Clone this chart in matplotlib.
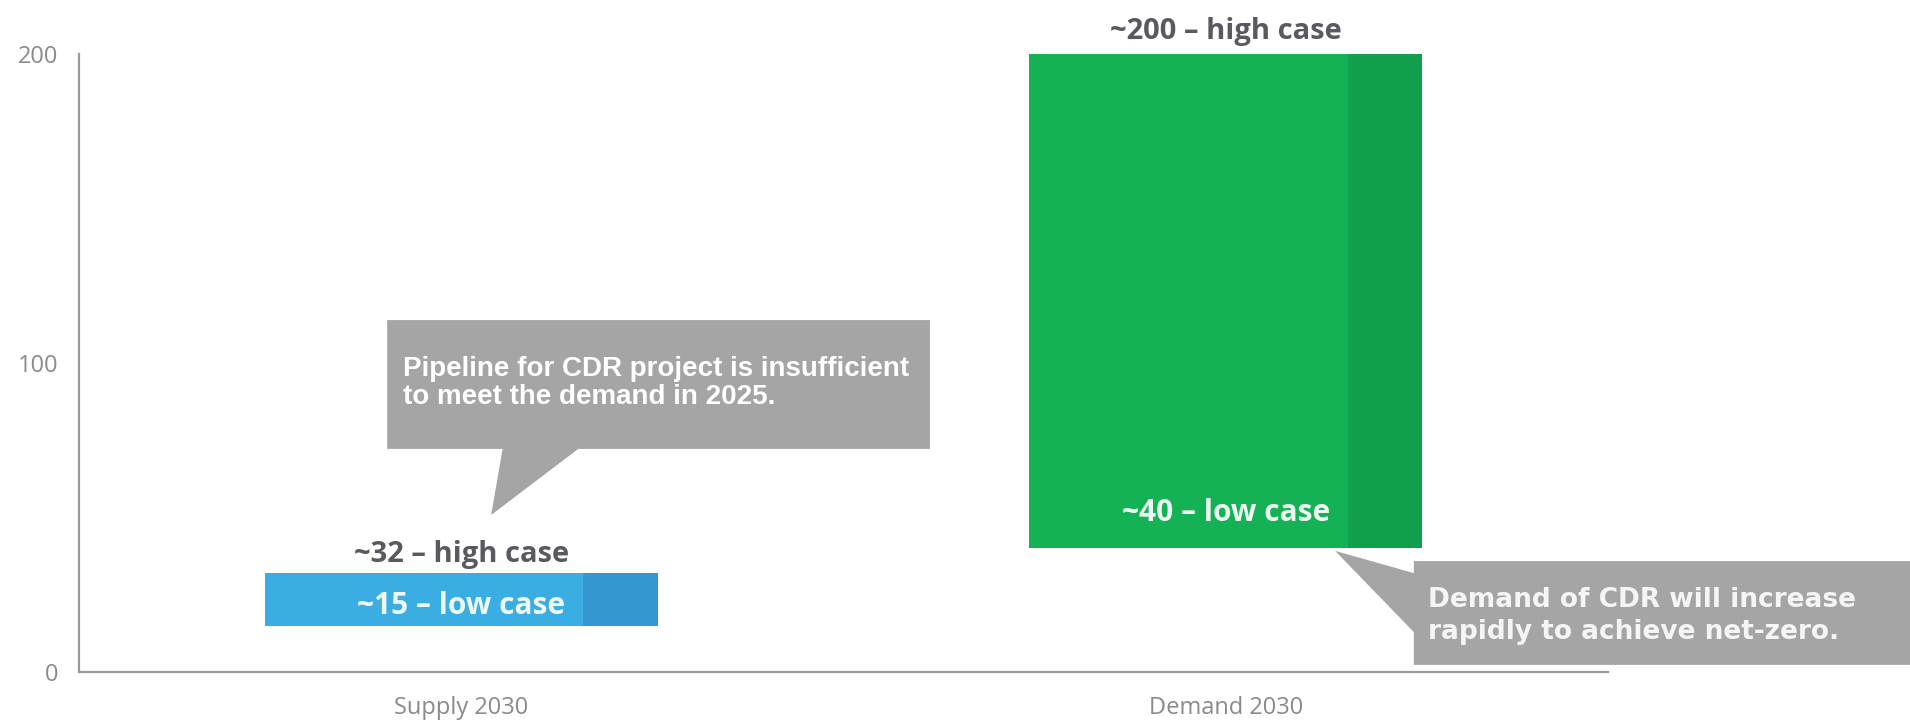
import matplotlib
matplotlib.use('Agg')
import matplotlib.pyplot as plt
from matplotlib.patches import Polygon

# data
categories = ['Supply 2030', 'Demand 2030']
low_case = [15, 40]
high_case = [32, 200]
high_labels = ['~32 \u2013 high case', '~200 \u2013 high case']
low_labels = ['~15 \u2013 low case', '~40 \u2013 low case']
main_colors = ['#3AAEE3', '#14B155']
strip_colors = ['#3596D0', '#12A04C']
y_ticks = [0, 100, 200]

fig = plt.figure(figsize=(19.1, 7.21), dpi=100)
ax = fig.add_axes([0.0414, 0.068, 0.8005, 0.857])

x = list(range(len(categories)))
bar_w = 0.514
strip_w = bar_w * 0.19
heights = [h - l for h, l in zip(high_case, low_case)]

ax.bar(x, heights, bottom=low_case, width=bar_w, color=main_colors, zorder=2)
ax.bar([i + bar_w / 2 - strip_w / 2 for i in x], heights, bottom=low_case,
       width=strip_w, color=strip_colors, zorder=2)

# label offsets (baseline, in data units)
high_off = [3.6, 4.9]
low_off = [3.8, 8.9]
for i in x:
    ax.text(i, high_case[i] + high_off[i], high_labels[i], ha='center', va='baseline',
            fontsize=21, fontweight='bold', color='#595961', family='Open Sans')
    ax.text(i, low_case[i] + low_off[i], low_labels[i], ha='center', va='baseline',
            fontsize=21.5, fontweight='bold', color='#eef8f3', family='Open Sans', zorder=3)

ax.set_xlim(-0.5, 1.5)
ax.set_ylim(0, 200)
ax.set_xticks(x)
ax.set_xticklabels(categories)
ax.set_yticks(y_ticks)
ax.tick_params(axis='both', length=0, labelsize=17, labelcolor='#8a8a8a')
ax.tick_params(axis='x', pad=17)
ax.tick_params(axis='y', pad=15)
for lab in ax.get_xticklabels() + ax.get_yticklabels():
    lab.set_family('Open Sans')

for s in ['top', 'right']:
    ax.spines[s].set_visible(False)
for s in ['left', 'bottom']:
    ax.spines[s].set_color('#9a9a9a')
    ax.spines[s].set_linewidth(1.6)

# callout 1
callout1 = [(-0.097, 72.2), (0.054, 72.2), (0.039, 50.8), (0.153, 72.2),
            (0.613, 72.2), (0.613, 113.9), (-0.097, 113.9)]
ax.add_patch(Polygon(callout1, closed=True, color='#A5A5A5', lw=0, zorder=4, clip_on=False))
ax.text(-0.076, 93.5, 'Pipeline for CDR project is insufficient\nto meet the demand in 2025.',
        ha='left', va='center', fontsize=20, fontweight='bold', color='white',
        family='Liberation Sans', linespacing=1.1, zorder=5)

# callout 2
callout2 = [(1.246, 35.9), (1.9, 35.9), (1.9, 2.3), (1.246, 2.3),
            (1.246, 12.9), (1.143, 39.2), (1.246, 32.0)]
ax.add_patch(Polygon(callout2, closed=True, color='#A5A5A5', lw=0, zorder=4, clip_on=False))
ax.text(1.265, 18.1, 'Demand of CDR will increase\nrapidly to achieve net-zero.',
        ha='left', va='center', fontsize=19, fontweight='bold', color='#f5f5f5',
        family='DejaVu Sans', linespacing=1.3, zorder=5)

fig.savefig('out.png', dpi=100)
